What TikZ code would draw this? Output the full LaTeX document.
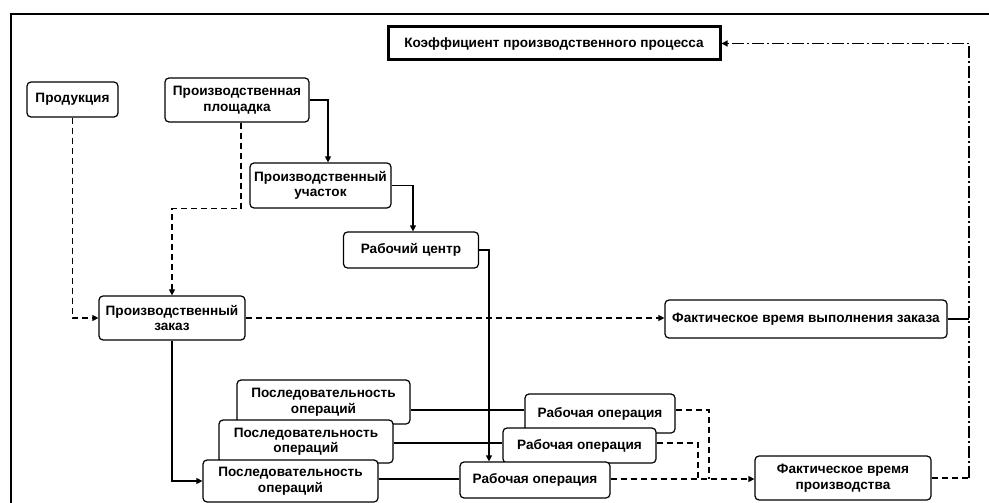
\documentclass[tikz,border=0pt]{standalone}
\usepackage{fontspec}
\setmainfont{Liberation Sans}
\usetikzlibrary{arrows.meta}

\begin{document}
\begin{tikzpicture}[x=1pt, y=-1pt,
  box/.style={draw=black, fill=white, line width=1.2pt, rounded corners=4pt, align=center, inner sep=1pt, font=\fontsize{13.6}{15.5}\selectfont\bfseries},
  link/.style={line width=1.2pt},
  arr/.style={-{Triangle[length=6pt,width=6pt]}},
  dsh/.style={link, dash pattern=on 6pt off 4pt},
  dshdot/.style={link, dash pattern=on 12pt off 3pt on 2pt off 3pt}]

\useasboundingbox (0,0) rectangle (989,503);
\draw[line width=1.4pt] (11,503) -- (11,14) -- (989,14);

\node[box, rounded corners=0pt, line width=3pt, minimum width=332pt, minimum height=33pt] (koef) at (554,43.5) {Коэффициент производственного процесса};

\node[box, minimum width=91pt, minimum height=35pt] (prod) at (72.5,99.5) {Продукция};

\node[box, minimum width=144pt, minimum height=44pt] (plosh) at (237,100) {Производственная\\площадка};

\node[box, minimum width=141pt, minimum height=45pt] (uchast) at (320.5,185.5) {Производственный\\участок};

\node[box, minimum width=135pt, minimum height=36pt] (rcentr) at (411,250) {Рабочий центр};

\node[box, minimum width=146pt, minimum height=44pt] (zakaz) at (172,318) {Производственный\\заказ};

\node[box, minimum width=282pt, minimum height=38pt] (faktzak) at (806,319) {Фактическое время выполнения заказа};

\node[box, minimum width=173pt, minimum height=44pt] (posl1) at (323.5,402) {Последовательность\\операций};

\node[box, minimum width=174pt, minimum height=43pt] (posl2) at (306,441.5) {Последовательность\\операций};

\node[box, minimum width=175pt, minimum height=42pt] (posl3) at (290.5,481) {Последовательность\\операций};

\node[box, minimum width=150pt, minimum height=39pt] (rop1) at (600,413.5) {Рабочая операция};

\node[box, minimum width=153pt, minimum height=35pt] (rop2) at (579.5,445.5) {Рабочая операция};

\node[box, minimum width=150pt, minimum height=36pt] (rop3) at (535,480) {Рабочая операция};

\node[box, minimum width=176pt, minimum height=44pt] (faktpr) at (843,478) {Фактическое время\\производства};

\coordinate (corner) at (969,43.5);
\coordinate (m1) at (709,479);
\coordinate (m2) at (698,479);

\draw[link, arr] (plosh.east) -| ([xshift=7.5pt]uchast.north);
\draw[link, arr] (uchast.east) -| ([xshift=2pt]rcentr.north);
\draw[link, arr] (rcentr.east) -| ([xshift=-46pt]rop3.north);
\draw[dsh, arr] (prod.south) |- (zakaz.west);
\draw[dsh, arr] ([xshift=4pt]plosh.south) -- ++(0,86) -| (zakaz.north);
\draw[dsh, arr] (zakaz.east) -- (zakaz.east -| faktzak.west);
\draw[link, arr] (zakaz.south) |- (posl3.west);
\draw[link] (posl1.east |- 0,410) -- (rop1.west |- 0,410);
\draw[link] (posl2.east |- 0,443) -- (rop2.west |- 0,443);
\draw[link] (posl3.east |- 0,479) -- (rop3.west |- 0,479);
\draw[dsh] (rop1.east |- 0,410) -| (m1);
\draw[dsh] (rop2.east |- 0,443) -| (m2);
\draw[dsh, arr] (rop3.east |- 0,479) -- (faktpr.west |- 0,479);
\draw[link] (faktzak.east) -- (faktzak.east -| corner);
\draw[dsh] (faktpr.east) -- (faktpr.east -| corner);
\draw[dshdot, arr] (faktpr.east -| corner) -- (corner) -- (koef.east);

\end{tikzpicture}
\end{document}
